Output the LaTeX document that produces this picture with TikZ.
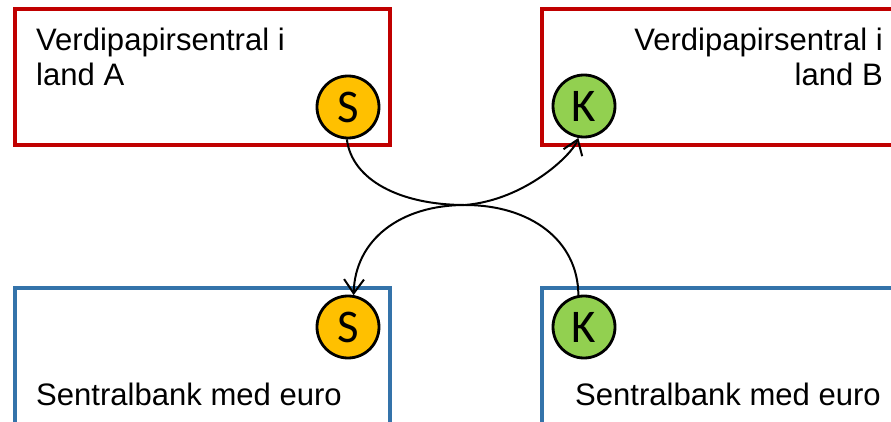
\documentclass[tikz,border=0pt]{standalone}
\usepackage{fontspec}
\setmainfont{Liberation Sans}
\newfontfamily\coinfont{Carlito}
\usetikzlibrary{arrows.meta,positioning}
\definecolor{vpsred}{RGB}{192,0,0}
\definecolor{cbblue}{RGB}{52,115,170}
\definecolor{sgold}{RGB}{255,192,0}
\definecolor{kgreen}{RGB}{146,208,80}
\tikzset{
    %Define standard arrow tip
    >={Straight Barb[length=12pt,width=17pt]},
    %Define style for boxes
    vpsbox/.style={
           rectangle,
           draw=vpsred, line width=3.4pt,
           minimum width=11.25cm,
           minimum height=4.08cm},
    bankbox/.style={
           rectangle,
           draw=cbblue, line width=3.4pt,
           minimum width=11.25cm,
           minimum height=4.08cm},
    coin/.style={
           circle,
           draw=black, line width=2.4pt,
           minimum size=1.86cm,
           inner sep=0pt,
           font=\coinfont\fontsize{40pt}{40pt}\selectfont,
           text centered},
    scoin/.style={coin, fill=sgold},
    kcoin/.style={coin, fill=kgreen},
    label/.style={
           inner sep=0pt,
           font=\fontsize{26.5pt}{30pt}\selectfont},
    % Define arrow style
    pil/.style={
           ->,
           line width=1.7pt}
}
\begin{document}
\begin{tikzpicture}[x=0.03cm,y=-0.03cm]
\useasboundingbox (0,0) rectangle (891,422);
\clip (0,0) rectangle (891,422);
 %boxes
\node[vpsbox](1) at (202.5,77){};
\node[vpsbox](2) at (729.5,77){};
\node[bankbox](3) at (202.5,356){};
\node[bankbox](4) at (729.5,356){};
 %texts
\node[label, anchor=north west, align=left](1t) at (36,28){Verdipapirsentral i\\land A};
\node[label, anchor=north east, align=right](2t) at (883,28){Verdipapirsentral i\\land B};
\node[label, anchor=base west](3t) at (36,405){Sentralbank med euro};
\node[label, anchor=base west](4t) at (575,405){Sentralbank med euro};
 %coins
\node[scoin](1s) at (348,107){S};
\node[kcoin](2k) at (584,106){K};
\node[scoin](3s) at (348,327){S};
\node[kcoin](4k) at (584,327){K};
\coordinate (x) at (465,205);
\draw[pil] (1s.-92) .. controls (352,180) and (400,205) .. (x)
    .. controls (525,200) and (572,155) .. (2k.-100);
\draw[pil] (4k.100) .. controls (578,240) and (530,205) .. (x)
    .. controls (400,205) and (355,240) .. (3s.80);
\end{tikzpicture}
\end{document}
